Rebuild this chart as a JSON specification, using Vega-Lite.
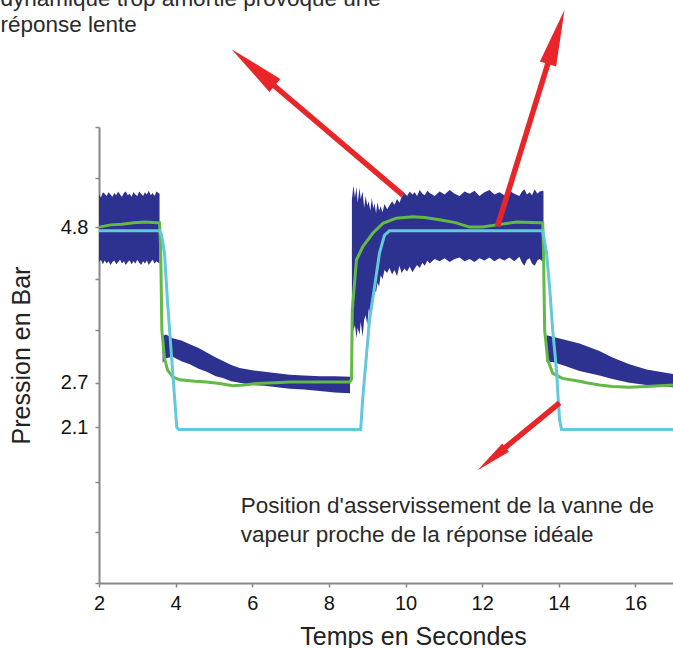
{
  "$schema": "https://vega.github.io/schema/vega-lite/v6.json",
  "width": 574,
  "height": 456,
  "autosize": {"type": "none"},
  "padding": {"left": 99, "top": 127, "right": 0, "bottom": 65},
  "background": "white",
  "config": {"view": {"stroke": null}, "axis": {"grid": false}},
  "datasets": {
    "band": [
      {"s": 1, "x": 2.0, "lo": 4.33, "hi": 5.24},
      {"s": 1, "x": 2.05, "lo": 4.36, "hi": 5.20},
      {"s": 1, "x": 2.1, "lo": 4.30, "hi": 5.27},
      {"s": 1, "x": 2.15, "lo": 4.35, "hi": 5.25},
      {"s": 1, "x": 2.2, "lo": 4.31, "hi": 5.22},
      {"s": 1, "x": 2.25, "lo": 4.34, "hi": 5.27},
      {"s": 1, "x": 2.3, "lo": 4.29, "hi": 5.24},
      {"s": 1, "x": 2.35, "lo": 4.33, "hi": 5.21},
      {"s": 1, "x": 2.4, "lo": 4.35, "hi": 5.26},
      {"s": 1, "x": 2.45, "lo": 4.30, "hi": 5.23},
      {"s": 1, "x": 2.5, "lo": 4.33, "hi": 5.28},
      {"s": 1, "x": 2.55, "lo": 4.36, "hi": 5.24},
      {"s": 1, "x": 2.6, "lo": 4.31, "hi": 5.21},
      {"s": 1, "x": 2.65, "lo": 4.34, "hi": 5.26},
      {"s": 1, "x": 2.7, "lo": 4.29, "hi": 5.28},
      {"s": 1, "x": 2.75, "lo": 4.33, "hi": 5.23},
      {"s": 1, "x": 2.8, "lo": 4.35, "hi": 5.25},
      {"s": 1, "x": 2.85, "lo": 4.30, "hi": 5.21},
      {"s": 1, "x": 2.9, "lo": 4.34, "hi": 5.27},
      {"s": 1, "x": 2.95, "lo": 4.31, "hi": 5.24},
      {"s": 1, "x": 3.0, "lo": 4.36, "hi": 5.22},
      {"s": 1, "x": 3.05, "lo": 4.32, "hi": 5.28},
      {"s": 1, "x": 3.1, "lo": 4.29, "hi": 5.25},
      {"s": 1, "x": 3.15, "lo": 4.34, "hi": 5.22},
      {"s": 1, "x": 3.2, "lo": 4.31, "hi": 5.27},
      {"s": 1, "x": 3.25, "lo": 4.35, "hi": 5.24},
      {"s": 1, "x": 3.3, "lo": 4.29, "hi": 5.29},
      {"s": 1, "x": 3.35, "lo": 4.33, "hi": 5.23},
      {"s": 1, "x": 3.4, "lo": 4.36, "hi": 5.26},
      {"s": 1, "x": 3.45, "lo": 4.31, "hi": 5.22},
      {"s": 1, "x": 3.5, "lo": 4.34, "hi": 5.28},
      {"s": 1, "x": 3.58, "lo": 4.31, "hi": 5.25},
      {"s": 2, "x": 3.66, "lo": 2.97, "hi": 3.33},
      {"s": 2, "x": 3.75, "lo": 3.03, "hi": 3.35},
      {"s": 2, "x": 3.92, "lo": 3.05, "hi": 3.30},
      {"s": 2, "x": 4.15, "lo": 2.99, "hi": 3.27},
      {"s": 2, "x": 4.37, "lo": 2.95, "hi": 3.22},
      {"s": 2, "x": 4.6, "lo": 2.89, "hi": 3.17},
      {"s": 2, "x": 4.81, "lo": 2.85, "hi": 3.11},
      {"s": 2, "x": 5.05, "lo": 2.79, "hi": 3.04},
      {"s": 2, "x": 5.25, "lo": 2.76, "hi": 2.99},
      {"s": 2, "x": 5.45, "lo": 2.72, "hi": 2.94},
      {"s": 2, "x": 5.67, "lo": 2.70, "hi": 2.90},
      {"s": 2, "x": 6.0, "lo": 2.67, "hi": 2.87},
      {"s": 2, "x": 6.32, "lo": 2.66, "hi": 2.85},
      {"s": 2, "x": 6.65, "lo": 2.64, "hi": 2.83},
      {"s": 2, "x": 6.98, "lo": 2.62, "hi": 2.81},
      {"s": 2, "x": 7.35, "lo": 2.61, "hi": 2.80},
      {"s": 2, "x": 7.76, "lo": 2.59, "hi": 2.79},
      {"s": 2, "x": 8.15, "lo": 2.57, "hi": 2.79},
      {"s": 2, "x": 8.55, "lo": 2.56, "hi": 2.78},
      {"s": 3, "x": 8.60, "lo": 3.59, "hi": 5.17},
      {"s": 3, "x": 8.64, "lo": 3.40, "hi": 5.36},
      {"s": 3, "x": 8.68, "lo": 3.48, "hi": 5.20},
      {"s": 3, "x": 8.72, "lo": 3.30, "hi": 5.34},
      {"s": 3, "x": 8.75, "lo": 3.44, "hi": 5.13},
      {"s": 3, "x": 8.80, "lo": 3.35, "hi": 5.33},
      {"s": 3, "x": 8.83, "lo": 3.52, "hi": 5.18},
      {"s": 3, "x": 8.88, "lo": 3.32, "hi": 5.28},
      {"s": 3, "x": 8.92, "lo": 3.55, "hi": 5.06},
      {"s": 3, "x": 8.96, "lo": 3.61, "hi": 5.22},
      {"s": 3, "x": 9.00, "lo": 3.48, "hi": 5.09},
      {"s": 3, "x": 9.04, "lo": 3.70, "hi": 5.15},
      {"s": 3, "x": 9.08, "lo": 3.62, "hi": 5.02},
      {"s": 3, "x": 9.12, "lo": 3.82, "hi": 5.19},
      {"s": 3, "x": 9.16, "lo": 3.78, "hi": 5.05},
      {"s": 3, "x": 9.19, "lo": 3.95, "hi": 5.12},
      {"s": 3, "x": 9.23, "lo": 3.92, "hi": 4.99},
      {"s": 3, "x": 9.27, "lo": 4.05, "hi": 5.14},
      {"s": 3, "x": 9.31, "lo": 4.00, "hi": 5.02},
      {"s": 3, "x": 9.35, "lo": 4.15, "hi": 5.08},
      {"s": 3, "x": 9.40, "lo": 4.10, "hi": 5.00},
      {"s": 3, "x": 9.45, "lo": 4.22, "hi": 5.11},
      {"s": 3, "x": 9.52, "lo": 4.18, "hi": 5.04},
      {"s": 3, "x": 9.58, "lo": 4.25, "hi": 5.09},
      {"s": 3, "x": 9.65, "lo": 4.16, "hi": 5.15},
      {"s": 3, "x": 9.71, "lo": 4.22, "hi": 5.10},
      {"s": 3, "x": 9.78, "lo": 4.14, "hi": 5.18},
      {"s": 3, "x": 9.84, "lo": 4.28, "hi": 5.13},
      {"s": 3, "x": 9.90, "lo": 4.18, "hi": 5.21},
      {"s": 3, "x": 9.97, "lo": 4.24, "hi": 5.26},
      {"s": 3, "x": 10.04, "lo": 4.20, "hi": 5.22},
      {"s": 3, "x": 10.11, "lo": 4.27, "hi": 5.28},
      {"s": 3, "x": 10.18, "lo": 4.19, "hi": 5.24},
      {"s": 3, "x": 10.24, "lo": 4.24, "hi": 5.27},
      {"s": 3, "x": 10.30, "lo": 4.29, "hi": 5.22},
      {"s": 3, "x": 10.37, "lo": 4.25, "hi": 5.30},
      {"s": 3, "x": 10.44, "lo": 4.32, "hi": 5.25},
      {"s": 3, "x": 10.50, "lo": 4.28, "hi": 5.23},
      {"s": 3, "x": 10.57, "lo": 4.35, "hi": 5.29},
      {"s": 3, "x": 10.63, "lo": 4.31, "hi": 5.26},
      {"s": 3, "x": 10.76, "lo": 4.37, "hi": 5.22},
      {"s": 3, "x": 10.89, "lo": 4.34, "hi": 5.28},
      {"s": 3, "x": 11.02, "lo": 4.38, "hi": 5.24},
      {"s": 3, "x": 11.15, "lo": 4.33, "hi": 5.30},
      {"s": 3, "x": 11.28, "lo": 4.37, "hi": 5.25},
      {"s": 3, "x": 11.41, "lo": 4.39, "hi": 5.22},
      {"s": 3, "x": 11.54, "lo": 4.34, "hi": 5.28},
      {"s": 3, "x": 11.67, "lo": 4.37, "hi": 5.25},
      {"s": 3, "x": 11.80, "lo": 4.33, "hi": 5.29},
      {"s": 3, "x": 11.93, "lo": 4.38, "hi": 5.22},
      {"s": 3, "x": 12.06, "lo": 4.35, "hi": 5.27},
      {"s": 3, "x": 12.19, "lo": 4.39, "hi": 5.30},
      {"s": 3, "x": 12.32, "lo": 4.34, "hi": 5.24},
      {"s": 3, "x": 12.45, "lo": 4.38, "hi": 5.27},
      {"s": 3, "x": 12.58, "lo": 4.35, "hi": 5.23},
      {"s": 3, "x": 12.71, "lo": 4.39, "hi": 5.29},
      {"s": 3, "x": 12.84, "lo": 4.34, "hi": 5.25},
      {"s": 3, "x": 12.97, "lo": 4.40, "hi": 5.22},
      {"s": 3, "x": 13.04, "lo": 4.32, "hi": 5.28},
      {"s": 3, "x": 13.10, "lo": 4.28, "hi": 5.31},
      {"s": 3, "x": 13.17, "lo": 4.36, "hi": 5.24},
      {"s": 3, "x": 13.24, "lo": 4.38, "hi": 5.27},
      {"s": 3, "x": 13.30, "lo": 4.31, "hi": 5.23},
      {"s": 3, "x": 13.37, "lo": 4.28, "hi": 5.31},
      {"s": 3, "x": 13.44, "lo": 4.35, "hi": 5.25},
      {"s": 3, "x": 13.50, "lo": 4.37, "hi": 5.28},
      {"s": 3, "x": 13.60, "lo": 4.33, "hi": 5.29},
      {"s": 4, "x": 13.68, "lo": 2.98, "hi": 3.34},
      {"s": 4, "x": 13.84, "lo": 2.98, "hi": 3.32},
      {"s": 4, "x": 14.15, "lo": 2.93, "hi": 3.28},
      {"s": 4, "x": 14.54, "lo": 2.86, "hi": 3.23},
      {"s": 4, "x": 14.8, "lo": 2.83, "hi": 3.18},
      {"s": 4, "x": 15.06, "lo": 2.80, "hi": 3.13},
      {"s": 4, "x": 15.40, "lo": 2.75, "hi": 3.04},
      {"s": 4, "x": 15.84, "lo": 2.70, "hi": 2.95},
      {"s": 4, "x": 16.29, "lo": 2.67, "hi": 2.88},
      {"s": 4, "x": 16.98, "lo": 2.64, "hi": 2.82}
    ],
    "green": [
      {"x": 2.0, "p": 4.80}, {"x": 2.3, "p": 4.83}, {"x": 2.6, "p": 4.84},
      {"x": 2.9, "p": 4.86}, {"x": 3.2, "p": 4.87}, {"x": 3.5, "p": 4.86},
      {"x": 3.58, "p": 4.86}, {"x": 3.61, "p": 4.5}, {"x": 3.64, "p": 3.41},
      {"x": 3.71, "p": 3.03}, {"x": 3.79, "p": 2.87}, {"x": 3.92, "p": 2.78},
      {"x": 4.11, "p": 2.74}, {"x": 4.5, "p": 2.72}, {"x": 4.81, "p": 2.71},
      {"x": 5.15, "p": 2.69}, {"x": 5.49, "p": 2.66}, {"x": 5.8, "p": 2.67},
      {"x": 6.11, "p": 2.69}, {"x": 6.6, "p": 2.70}, {"x": 6.98, "p": 2.71},
      {"x": 7.5, "p": 2.71}, {"x": 8.02, "p": 2.71}, {"x": 8.55, "p": 2.71},
      {"x": 8.59, "p": 2.75}, {"x": 8.61, "p": 3.68}, {"x": 8.72, "p": 4.36},
      {"x": 8.89, "p": 4.54}, {"x": 9.15, "p": 4.72}, {"x": 9.41, "p": 4.85},
      {"x": 9.76, "p": 4.92}, {"x": 10.19, "p": 4.94}, {"x": 10.5, "p": 4.93},
      {"x": 10.89, "p": 4.90}, {"x": 11.3, "p": 4.86}, {"x": 11.67, "p": 4.80},
      {"x": 12.0, "p": 4.80}, {"x": 12.38, "p": 4.83}, {"x": 12.9, "p": 4.87},
      {"x": 13.5, "p": 4.86}, {"x": 13.58, "p": 4.86}, {"x": 13.60, "p": 4.5},
      {"x": 13.63, "p": 3.41}, {"x": 13.71, "p": 3.01}, {"x": 13.84, "p": 2.83},
      {"x": 14.09, "p": 2.76}, {"x": 14.54, "p": 2.72}, {"x": 14.72, "p": 2.70},
      {"x": 15.06, "p": 2.67}, {"x": 15.40, "p": 2.65}, {"x": 15.84, "p": 2.64},
      {"x": 16.29, "p": 2.65}, {"x": 16.98, "p": 2.67}
    ],
    "cyan": [
      {"x": 2.0, "p": 4.75}, {"x": 3.58, "p": 4.75}, {"x": 3.63, "p": 4.70},
      {"x": 3.71, "p": 4.45}, {"x": 3.79, "p": 3.78}, {"x": 3.92, "p": 2.87},
      {"x": 4.03, "p": 2.10}, {"x": 4.08, "p": 2.07}, {"x": 8.83, "p": 2.07},
      {"x": 8.88, "p": 2.47}, {"x": 9.06, "p": 3.55}, {"x": 9.19, "p": 3.99},
      {"x": 9.32, "p": 4.45}, {"x": 9.45, "p": 4.69}, {"x": 9.58, "p": 4.75},
      {"x": 13.58, "p": 4.75}, {"x": 13.68, "p": 4.45}, {"x": 13.76, "p": 3.99},
      {"x": 13.84, "p": 3.41}, {"x": 13.94, "p": 2.87}, {"x": 13.99, "p": 2.43},
      {"x": 14.02, "p": 2.20}, {"x": 14.07, "p": 2.07}, {"x": 16.98, "p": 2.07}
    ],
    "arrows": [
      {"id": 1, "x": 9.93, "y": 5.23, "xb": 6.45, "yb": 6.76, "xt": 5.46, "yt": 7.20, "heading": 310},
      {"id": 2, "x": 12.40, "y": 4.81, "xb": 13.76, "yb": 7.08, "xt": 14.15, "yt": 7.73, "heading": 17},
      {"id": 3, "x": 14.02, "y": 2.43, "xb": 12.49, "yb": 1.78, "xt": 11.88, "yt": 1.52, "heading": 231}
    ],
    "notes": [
      {"x": -0.57, "y": 7.78, "text": "dynamique trop amortie provoque une"},
      {"x": -0.57, "y": 7.43, "text": "réponse lente"},
      {"x": 5.70, "y": 0.944, "text": "Position d'asservissement de la vanne de"},
      {"x": 5.70, "y": 0.553, "text": "vapeur proche de la réponse idéale"}
    ]
  },
  "layer": [
    {
      "data": {"name": "band"},
      "mark": {"type": "area", "color": "#2D318F", "opacity": 1},
      "encoding": {
        "x": {
          "field": "x", "type": "quantitative",
          "scale": {"domain": [2, 16.98], "nice": false, "zero": false},
          "axis": {
            "title": "Temps en Secondes",
            "values": [2, 4, 6, 8, 10, 12, 14, 16],
            "format": "d",
            "labelFont": "Liberation Sans", "labelFontSize": 20, "labelColor": "#111",
            "labelPadding": 6, "labelFlush": false,
            "tickSize": 4, "tickColor": "#888", "tickWidth": 1.5,
            "domainColor": "#888", "domainWidth": 2,
            "titleFont": "Liberation Sans", "titleFontSize": 25, "titleFontWeight": "normal",
            "titleColor": "#222", "titleX": 314, "titleY": 61,
            "titleAlign": "center", "titleBaseline": "alphabetic"
          }
        },
        "y": {
          "field": "lo", "type": "quantitative",
          "scale": {"domain": [0, 6.15], "nice": false},
          "axis": {
            "title": "Pression en Bar",
            "values": [0, 0.69, 1.36, 2.1, 2.7, 3.41, 4.1, 4.8, 5.46, 6.15],
            "labelExpr": "(datum.value == 2.1 || datum.value == 2.7 || datum.value == 4.8) ? format(datum.value, '.1f') : ''",
            "labelFont": "Liberation Sans", "labelFontSize": 20, "labelColor": "#111",
            "labelPadding": 7,
            "tickSize": 4, "tickColor": "#888", "tickWidth": 1.5,
            "domainColor": "#888", "domainWidth": 2,
            "titleFont": "Liberation Sans", "titleFontSize": 25, "titleFontWeight": "normal",
            "titleColor": "#222", "titleX": -70, "titleY": 228,
            "titleAlign": "center", "titleBaseline": "alphabetic"
          }
        },
        "y2": {"field": "hi"},
        "detail": {"field": "s", "type": "nominal"}
      }
    },
    {
      "data": {"name": "green"},
      "mark": {"type": "line", "color": "#63B946", "strokeWidth": 3},
      "encoding": {
        "x": {"field": "x", "type": "quantitative"},
        "y": {"field": "p", "type": "quantitative"}
      }
    },
    {
      "data": {"name": "cyan"},
      "mark": {"type": "line", "color": "#62C8DA", "strokeWidth": 3},
      "encoding": {
        "x": {"field": "x", "type": "quantitative"},
        "y": {"field": "p", "type": "quantitative"}
      }
    },
    {
      "data": {"name": "arrows"},
      "mark": {"type": "rule", "color": "#E8262A", "strokeWidth": 5.5},
      "encoding": {
        "x": {"field": "x", "type": "quantitative"},
        "y": {"field": "y", "type": "quantitative"},
        "x2": {"field": "xb"},
        "y2": {"field": "yb"}
      }
    },
    {
      "data": {"name": "arrows"},
      "transform": [{"filter": "datum.id != 3"}],
      "mark": {"type": "point", "shape": "M0,0 L0.3,2 L-0.3,2 Z", "filled": true, "color": "#E8262A", "opacity": 1, "size": 3200},
      "encoding": {
        "x": {"field": "xt", "type": "quantitative"},
        "y": {"field": "yt", "type": "quantitative"},
        "angle": {"field": "heading", "type": "quantitative", "scale": null}
      }
    },
    {
      "data": {"name": "arrows"},
      "transform": [{"filter": "datum.id == 3"}],
      "mark": {"type": "point", "shape": "M0,0 L0.3,2 L-0.3,2 Z", "filled": true, "color": "#E8262A", "opacity": 1, "size": 1300},
      "encoding": {
        "x": {"field": "xt", "type": "quantitative"},
        "y": {"field": "yt", "type": "quantitative"},
        "angle": {"field": "heading", "type": "quantitative", "scale": null}
      }
    },
    {
      "data": {"name": "notes"},
      "mark": {"type": "text", "align": "left", "baseline": "alphabetic", "font": "Liberation Sans", "fontSize": 22.5, "color": "#2a2a2a"},
      "encoding": {
        "x": {"field": "x", "type": "quantitative"},
        "y": {"field": "y", "type": "quantitative"},
        "text": {"field": "text"}
      }
    }
  ]
}
